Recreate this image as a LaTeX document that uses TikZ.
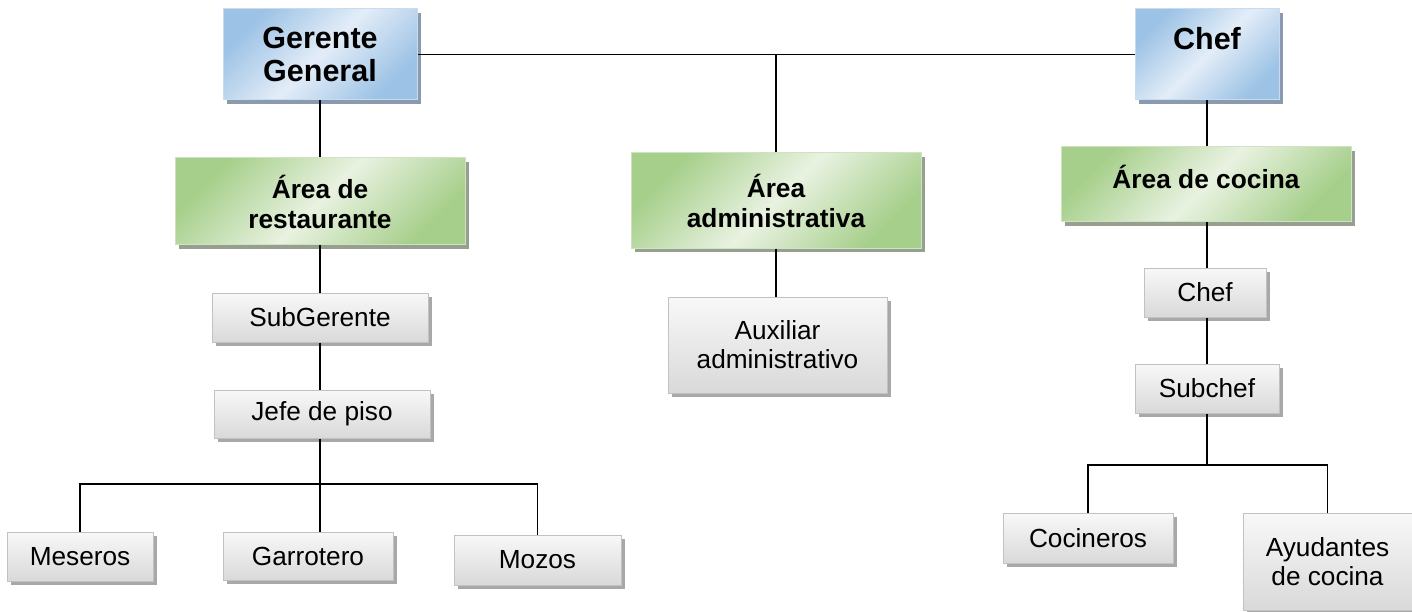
\documentclass[tikz,border=0pt]{standalone}
\usepackage{fontspec}
\setmainfont{Liberation Sans}
\usetikzlibrary{shadows}

\definecolor{bluedark}{HTML}{9CC2E5}
\definecolor{bluelight}{HTML}{E3EDF8}
\definecolor{blueedge}{HTML}{C9DCEF}
\definecolor{blueshadow}{HTML}{8A9BB0}
\definecolor{greendark}{HTML}{A6CF8B}
\definecolor{greenlight}{HTML}{E9F2E1}
\definecolor{greenedge}{HTML}{CFE3C0}
\definecolor{greenshadow}{HTML}{979F90}
\definecolor{graytop}{HTML}{F8F8F8}
\definecolor{graybottom}{HTML}{D9D9D9}
\definecolor{grayedge}{HTML}{C2C2C2}
\definecolor{grayshadow}{HTML}{A8A8A8}

\begin{document}
\begin{tikzpicture}[x=1pt,y=-1pt,
  box/.style={rectangle, inner sep=0pt, align=center, line width=1pt},
  topbox/.style={box, draw=blueedge,
    top color=bluedark, bottom color=bluedark, middle color=bluelight,
    shading angle=45,
    general shadow={fill=blueshadow, shadow xshift=4pt, shadow yshift=-4pt},
    font=\fontsize{30.5}{33}\selectfont\bfseries},
  areabox/.style={box, draw=greenedge,
    top color=greendark, bottom color=greendark, middle color=greenlight,
    shading angle=45,
    general shadow={fill=greenshadow, shadow xshift=4pt, shadow yshift=-4pt},
    font=\fontsize{26.3}{30}\selectfont\bfseries},
  rolebox/.style={box, draw=grayedge,
    top color=graytop, bottom color=graybottom,
    general shadow={fill=grayshadow, shadow xshift=4pt, shadow yshift=-4pt},
    font=\fontsize{26.2}{29}\selectfont},
  link/.style={line width=1.5pt, black}
]
\useasboundingbox (0,0) rectangle (1412,612);

% top level
\node[topbox, minimum width=194pt, minimum height=91pt] (gg) at (320,54.5) {Gerente\\General};
\node[topbox, minimum width=144pt, minimum height=91pt,
      label={[name=cheft, font=\fontsize{30.5}{33}\selectfont\bfseries, yshift=15.5pt]center:Chef}]
      (chefbox) at (1207,54.5) {};

% areas
\node[areabox, minimum width=290pt, minimum height=87pt] (rest) at (320,201.5) {Área de\\restaurante};
\node[areabox, minimum width=290pt, minimum height=95pt] (adm) at (776,200.5) {Área\\administrativa};
\node[areabox, minimum width=290pt, minimum height=75pt,
      label={[name=coct, font=\fontsize{26.3}{30}\selectfont\bfseries, yshift=8pt]center:Área de cocina}]
      (coc) at (1206,184.5) {};

% restaurant branch
\node[rolebox, minimum width=216pt, minimum height=49pt] (sub) at (320,317.5) {SubGerente};
\node[rolebox, minimum width=216pt, minimum height=48pt] (jefe) at (322,414) {Jefe de piso};
\node[rolebox, minimum width=146pt, minimum height=49pt] (mes) at (80,556.5) {Meseros};
\node[rolebox, minimum width=170pt, minimum height=48pt] (gar) at (308,556) {Garrotero};
\node[rolebox, minimum width=167pt, minimum height=50pt] (moz) at (537.5,560) {Mozos};

% administration branch
\node[rolebox, minimum width=219pt, minimum height=96pt] (aux) at (777.5,345) {Auxiliar\\administrativo};

% kitchen branch
\node[rolebox, minimum width=122pt, minimum height=49pt] (chefs) at (1205,292.5) {Chef};
\node[rolebox, minimum width=144pt, minimum height=49pt] (subchef) at (1207,388.5) {Subchef};
\node[rolebox, minimum width=170pt, minimum height=50pt] (coci) at (1088,538) {Cocineros};
\node[rolebox, minimum width=169pt, minimum height=97pt] (ayu) at (1327.5,561.5) {Ayudantes\\de cocina};

% bus points
\coordinate (rbus) at (320,484);
\coordinate (kbus) at (1207,465);

% connectors
\draw[link] (gg.east) -- (chefbox.west);
\draw[link] (adm.north) -- (adm.north |- gg.east);
\draw[link] (gg.south) -- (rest.north);
\draw[link] (chefbox.south) -- (chefbox.south |- coc.north);

\draw[link] (rest.south) -- (sub.north);
\draw[link] (sub.south) -- (sub.south |- jefe.north);
\draw[link] (rbus |- jefe.south) -- (rbus);
\draw[link] (mes.north) |- (rbus) -| (moz.north);
\draw[link] (rbus) -- (rbus |- gar.north);

\draw[link] (adm.south) -- (adm.south |- aux.north);

\draw[link] (coc.south -| kbus) -- (kbus |- chefs.north);
\draw[link] (kbus |- chefs.south) -- (kbus |- subchef.north);
\draw[link] (subchef.south) -- (kbus);
\draw[link] (coci.north) |- (kbus) -| (ayu.north);
\end{tikzpicture}
\end{document}
